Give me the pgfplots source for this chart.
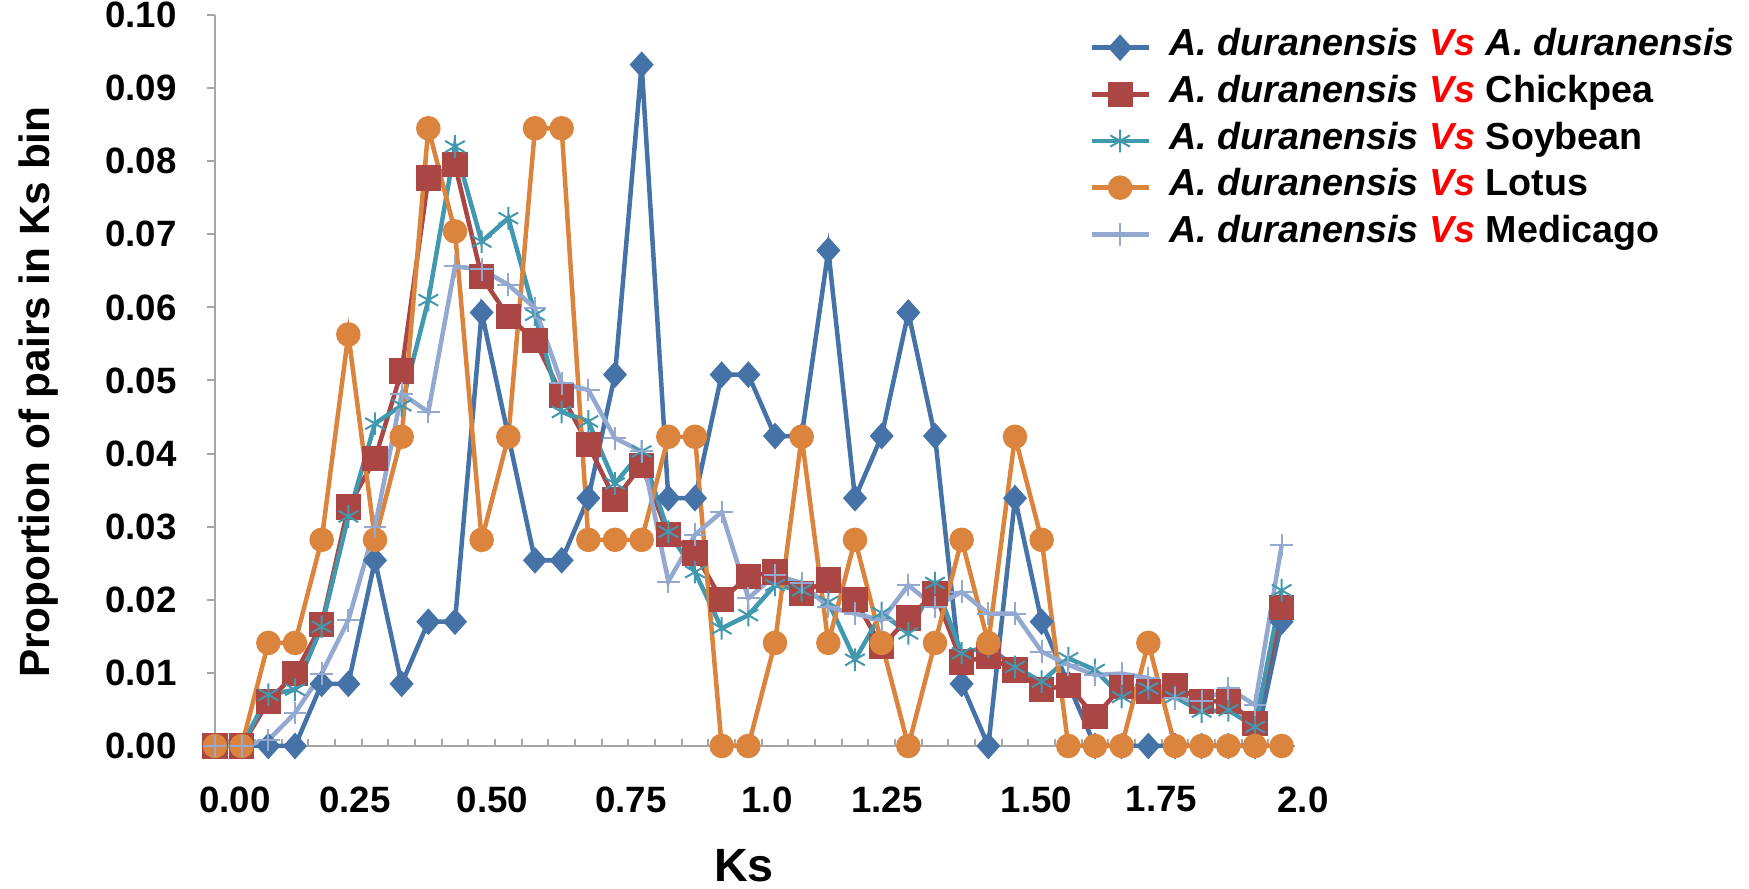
\documentclass[border=0pt]{standalone}
\usepackage{pgfplots}
\usepackage{pgfplotstable}
\pgfplotsset{compat=1.18}
\usepackage{fontspec}
\setmainfont{Liberation Sans}
\definecolor{sblue}{HTML}{4572A7}
\definecolor{sred}{HTML}{AA4643}
\definecolor{steal}{HTML}{4198AF}
\definecolor{sorange}{HTML}{DB843D}
\definecolor{slblue}{HTML}{93A9CF}
\definecolor{axgray}{HTML}{A6A6A6}
\newcommand{\ad}{\textit{A. duranensis}}
\newcommand{\vs}{\textcolor{red}{\textit{Vs}}}

\pgfplotstableread{
k dur chick soy lotus med
0 0 0 0 0 0
1 0 0 0 0 0
2 0 0.0061 0.0070 0.0141 0.0008
3 0 0.0099 0.0077 0.0141 0.0045
4 0.0085 0.0166 0.0163 0.0282 0.0099
5 0.0085 0.0327 0.0314 0.0563 0.0172
6 0.0254 0.0393 0.0441 0.0282 0.0300
7 0.0085 0.0513 0.0466 0.0423 0.0482
8 0.0170 0.0777 0.0610 0.0845 0.0457
9 0.0170 0.0795 0.0820 0.0704 0.0656
10 0.0593 0.0642 0.0690 0.0282 0.0652
11 0.0424 0.0587 0.0722 0.0423 0.0631
12 0.0254 0.0555 0.0590 0.0845 0.0599
13 0.0254 0.0480 0.0457 0.0845 0.0496
14 0.0339 0.0412 0.0444 0.0282 0.0487
15 0.0508 0.0337 0.0359 0.0282 0.0421
16 0.0932 0.0384 0.0403 0.0282 0.0403
17 0.0339 0.0289 0.0293 0.0423 0.0225
18 0.0339 0.0264 0.0238 0.0423 0.0289
19 0.0508 0.0200 0.0161 0 0.0320
20 0.0508 0.0232 0.0179 0 0.0202
21 0.0424 0.0238 0.0220 0.0141 0.0234
22 0.0424 0.0209 0.0213 0.0423 0.0223
23 0.0678 0.0227 0.0197 0.0141 0.0190
24 0.0339 0.0200 0.0118 0.0282 0.0181
25 0.0424 0.0136 0.0182 0.0141 0.0172
26 0.0593 0.0175 0.0154 0 0.0220
27 0.0424 0.0209 0.0223 0.0141 0.0190
28 0.0085 0.0115 0.0127 0.0282 0.0211
29 0 0.0122 0.0136 0.0141 0.0181
30 0.0339 0.0104 0.0108 0.0423 0.0181
31 0.0170 0.0077 0.0088 0.0282 0.0129
32 0.0085 0.0083 0.0120 0 0.0111
33 0 0.0040 0.0104 0 0.0097
34 0 0.0081 0.0067 0 0.0099
35 0 0.0074 0.0079 0.0141 0.0093
36 0 0.0083 0.0067 0 0.0065
37 0 0.0061 0.0047 0 0.0061
38 0 0.0061 0.0049 0 0.0079
39 0 0.0031 0.0026 0 0.0056
40 0.0170 0.0190 0.0213 0 0.0275
}\datatable

\begin{document}
\begin{tikzpicture}
\path[use as bounding box] (0,0) rectangle (524.7pt,266.7pt);
\begin{axis}[
  at={(64.5pt,42.9pt)}, anchor=south west,
  scale only axis, width=324pt, height=219.3pt,
  xmin=0, xmax=40.5, ymin=0, ymax=0.1,
  axis x line=bottom, axis y line=left,
  axis line style={axgray, line width=0.6pt, -},
  clip=false,
  tick align=outside,
  major tick length=2.4pt,
  minor tick length=2pt,
  tick style={axgray, line width=0.6pt},
  xtick={0.75,5.25,10.4,15.6,20.7,25.2,30.8,35.5,40.5},
  xticklabels={0.00,0.25,0.50,0.75,1.0,1.25,1.50,1.75,\hspace*{4.8pt}2.0},
  major x tick style={draw=none},
  minor xtick={0.5,1.5,...,39.5},
  minor x tick style={yshift=2pt},
  ytick={0,0.01,0.02,0.03,0.04,0.05,0.06,0.07,0.08,0.09,0.1},
  scaled y ticks=false,
  yticklabel style={/pgf/number format/.cd, fixed, fixed zerofill, precision=2, assume math mode=true, /tikz/.cd, font=\fontsize{11}{13}\selectfont\bfseries, xshift=-5.6pt},
  xticklabel style={font=\fontsize{11}{13}\selectfont\bfseries, yshift=-6.2pt},
  ylabel={Proportion of pairs in Ks bin},
  ylabel style={at={(axis description cs:-0.163,0.484)}, anchor=center, font=\fontsize{12.7}{15}\selectfont\bfseries},
  xlabel={Ks},
  xlabel style={at={(axis description cs:0.4898,-0.164)}, anchor=center, font=\fontsize{14}{16}\selectfont\bfseries},
  legend style={at={(axis description cs:0.809,0.979)}, anchor=north west, draw=none, fill=none, inner sep=0pt, font=\fontsize{11.3}{13}\selectfont\bfseries, row sep=4pt, nodes={inner ysep=0pt, text depth=0.25em, text height=0.75em}, /tikz/every odd column/.append style={column sep=3.7pt}},
  legend cell align=left,
  every axis plot/.append style={line width=1.35pt},
]
\addplot[sblue, mark=diamond*, mark size=3pt, mark options={xscale=1.2, solid}] table[x=k, y=dur] {\datatable};
\addlegendentry{\ad\ \vs\ \ad}
\addplot[sred, mark=square*, mark size=3.1pt] table[x=k, y=chick] {\datatable};
\addlegendentry{\ad\ \vs\ Chickpea}
\addplot[steal, mark=asterisk, mark size=3.4pt, mark options={line width=0.6pt}] table[x=k, y=soy] {\datatable};
\addlegendentry{\ad\ \vs\ Soybean}
\addplot[sorange, mark=*, mark size=3pt] table[x=k, y=lotus] {\datatable};
\addlegendentry{\ad\ \vs\ Lotus}
\addplot[slblue, mark=+, mark size=3.4pt, mark options={line width=0.6pt}] table[x=k, y=med] {\datatable};
\addlegendentry{\ad\ \vs\ Medicago}
\end{axis}
\end{tikzpicture}
\end{document}
